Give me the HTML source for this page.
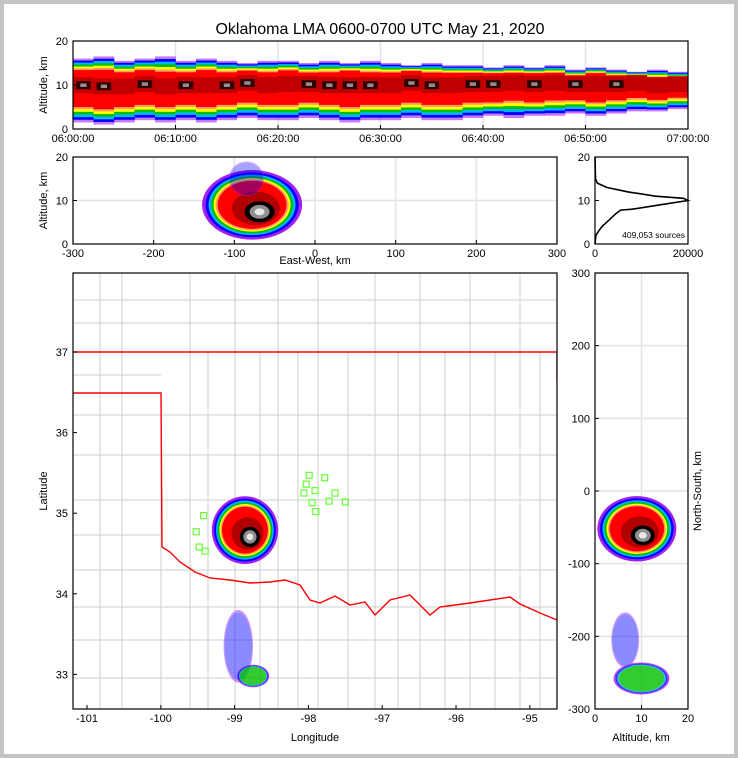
<!DOCTYPE html>
<html><head><meta charset="utf-8"><style>
html,body{margin:0;padding:0;background:#fff}
svg{display:block;font-family:"Liberation Sans",sans-serif}
text{fill:#000}
</style></head><body>
<svg id="c" width="738" height="758" xmlns="http://www.w3.org/2000/svg">
<rect x="0" y="0" width="738" height="758" fill="#c4c4c4"/>
<rect x="4" y="4" width="730" height="750" fill="#fff"/>
<text x="380" y="34" font-size="16" text-anchor="middle">Oklahoma LMA 0600-0700 UTC May 21, 2020</text>
<g id="g"></g>
</svg>
<script>
// ---- data ----
const timeTicks=["06:00:00","06:10:00","06:20:00","06:30:00","06:40:00","06:50:00","07:00:00"];
const binTop=[16,16.5,15.5,16,16.5,15.5,16,15.5,15,15.5,15.5,15,15.5,15,15.5,15,14.5,15,14.5,14.5,14,14.5,14,14.5,13.5,14,13.5,13,13.5,13];
const binBot=[1.5,1,1.5,2,1.5,2,1.5,2,2.5,2,2,2.5,2,1.5,2,2,2.5,2,2,2.5,3,2.5,3,3,3.5,3,3.5,4,4,4.5];
const binCoreLo=[5.5,5,5.5,6,5.5,6,5.5,6,6.5,6,6,6.5,6,5.5,6,6,6.5,6,6,6.5,6.5,7,6.5,7,7,6.5,7,7.5,7,7.5];
const binCoreHi=[13,13,12.5,13,12.5,12.5,13,12.5,13,12.5,13,12.5,12.5,13,12.5,12.5,13,12.5,12.5,12.5,12.5,12.5,12.5,12.5,12,12.5,12,12,11.5,11.5];
const binDark=[1,1,0,1,0,1,0,1,1,0,0,1,1,1,1,0,1,1,0,1,1,0,1,0,1,0,1,0,0,0];
const ewTicks=[-300,-200,-100,0,100,200,300];
const histAlt=[0,2,3,4,5,6,7,7.8,8,9,10,10.5,11,12,13,14,15,20];
const histCount=[0,200,800,1500,2500,3500,4500,5500,8000,14000,20000,19000,13000,7000,2500,500,100,0];
const lonTicks=[-101,-100,-99,-98,-97,-96,-95];
const latTicks=[33,34,35,36,37];
const nsTicks=[300,200,100,0,-100,-200,-300];
const mapBlobLon=[-98.86,-98.95,-98.75];
const mapBlobLat=[34.79,33.35,32.98];
const mapBlobRLon=[0.45,0.2,0.22];
const mapBlobRLat=[0.42,0.45,0.14];
const mapBlobLayers=[11,2,4];
const mapBlobOpacity=[1,0.45,0.8];
const ewBlobX=[-78,-85];
const ewBlobAlt=[9,15];
const ewBlobRX=[62,22];
const ewBlobRAlt=[8,4];
const ewBlobLayers=[11,2];
const ewBlobOpacity=[1,0.35];
const nsBlobAlt=[9,6.5,10];
const nsBlobY=[-52,-205,-258];
const nsBlobRAlt=[8.5,3,6];
const nsBlobRY=[45,38,22];
const nsBlobLayers=[11,2,4];
const nsBlobOpacity=[1,0.45,0.8];
const stationLon=[-97.99,-97.78,-98.03,-98.06,-97.91,-97.64,-97.95,-97.72,-97.50,-97.90,-99.42,-99.52,-99.48,-99.40];
const stationLat=[35.47,35.44,35.36,35.25,35.28,35.25,35.13,35.15,35.14,35.02,34.97,34.77,34.58,34.53];

// ---- helpers ----
const NS="http://www.w3.org/2000/svg";const G=document.getElementById('g');
function mk(t,a,p){const e=document.createElementNS(NS,t);for(const k in a)e.setAttribute(k,a[k]);(p||G).appendChild(e);return e;}
const COL=["#a020f0","#0000ff","#00b4ff","#00c000","#ffff00","#ffa060","#ff0000","#b00000","#000000","#909090","#e8e8e8"];
const FR=[1,0.93,0.87,0.82,0.77,0.73,0.69,0.48,0.3,0.2,0.1];
function txt(x,y,s,sz,anc,name,rot){const e=mk('text',{x:x,y:y,'font-size':sz,'text-anchor':anc});e.textContent=s;if(rot)e.setAttribute('transform',`rotate(-90 ${x} ${y})`);

return e;}
function frame(x,y,w,h,name){const r=mk('rect',{x:x,y:y,width:w,height:h,fill:'none',stroke:'#000','stroke-width':1.2});

}
function grid(x1,y1,x2,y2){const l=mk('line',{x1:x1,y1:y1,x2:x2,y2:y2,stroke:'#e4e4e4','stroke-width':1.5});

}
function tick(x1,y1,x2,y2){const l=mk('line',{x1:x1,y1:y1,x2:x2,y2:y2,stroke:'#000','stroke-width':1});

}
function blob(cx,cy,rx,ry,n,op,name,p){const g=mk('g',{opacity:op},p);


for(let i=0;i<n;i++){const f=FR[i];const off=i>7?1:(i>6?0.5:0);
 const e=mk('ellipse',{cx:cx+off*rx*0.15,cy:cy+off*ry*0.2,rx:rx*f,ry:ry*f,fill:COL[i]},g);
 
 }}

// ---- panel 1: time-altitude ----
const T={x:73,y:41,w:615,h:88};
const tX=m=>T.x+m*T.w/60, tY=a=>T.y+T.h-a*T.h/20;
for(let i=1;i<6;i++)grid(tX(i*10),T.y,tX(i*10),T.y+T.h);grid(T.x,tY(10),T.x+T.w,tY(10));
const TF=[0,0.15,0.3,0.45,0.6,0.75,0.87];
binTop.forEach((top,i)=>{const bot=binBot[i],lo=binCoreLo[i],hi=binCoreHi[i],x=tX(i*2),w=tX(2)-tX(0)+0.3;
 TF.forEach((f,k)=>{const a1=bot+(lo-bot)*f,a2=top-(top-hi)*f;
  const r=mk('rect',{x:x,y:tY(a2),width:w,height:tY(a1)-tY(a2),fill:COL[k],opacity:k==0?0.6:1});
  
  });
 const m=(lo+hi)/2+0.7;
 const d=mk('rect',{x:x,y:tY(m+1.8),width:w,height:tY(m-1.8)-tY(m+1.8),fill:'#c00000'});
 
 
 if(binDark[i]){const r=mk('rect',{x:x+w*0.15,y:tY(m+0.9),width:w*0.7,height:tY(m-0.9)-tY(m+0.9),fill:'#300000'});
  
  
  const r2=mk('rect',{x:x+w*0.35,y:tY(m+0.4),width:w*0.3,height:tY(m-0.4)-tY(m+0.4),fill:'#909090'});
  
  }
});
frame(T.x,T.y,T.w,T.h,'time-altitude-frame');
timeTicks.forEach((s,i)=>{const x=tX(i*10);tick(x,T.y+T.h,x,T.y+T.h-4);txt(x,T.y+T.h+13,s,11,'middle','time-tick-label');});
[0,10,20].forEach(v=>{tick(T.x,tY(v),T.x+4,tY(v));txt(T.x-5,tY(v)+4,v,11,'end','alt-tick-label');});
txt(47,T.y+T.h/2,'Altitude, km',11,'middle','time-panel-y-title',1);

// ---- panel 2: east-west vs altitude ----
const E={x:73,y:157,w:484,h:87};
const eX=k=>E.x+(k+300)*E.w/600, eY=a=>E.y+E.h-a*E.h/20;
ewTicks.forEach(v=>grid(eX(v),E.y,eX(v),E.y+E.h));grid(E.x,eY(10),E.x+E.w,eY(10));
ewBlobX.forEach((k,i)=>blob(eX(k),eY(ewBlobAlt[i]),ewBlobRX[i]*E.w/600,ewBlobRAlt[i]*E.h/20,ewBlobLayers[i],ewBlobOpacity[i],'ew-density-blob'));
frame(E.x,E.y,E.w,E.h,'ew-altitude-frame');
ewTicks.forEach(v=>{tick(eX(v),E.y+E.h,eX(v),E.y+E.h-4);txt(eX(v),E.y+E.h+13,v,11,'middle','ew-tick-label');});
[0,10,20].forEach(v=>{tick(E.x,eY(v),E.x+4,eY(v));txt(E.x-5,eY(v)+4,v,11,'end','alt-tick-label');});
txt(47,E.y+E.h/2,'Altitude, km',11,'middle','ew-panel-y-title',1);
txt(315,264,'East-West, km',11,'middle','ew-x-title');

// ---- histogram ----
const H={x:595,y:157,w:93,h:87};
const hX=c=>H.x+c*H.w/20000, hY=a=>H.y+H.h-a*H.h/20;
const hp=mk('path',{d:histAlt.map((a,i)=>(i?'L':'M')+hX(histCount[i]).toFixed(1)+','+hY(a).toFixed(1)).join(''),fill:'none',stroke:'#000','stroke-width':1.6});


frame(H.x,H.y,H.w,H.h,'histogram-frame');
[0,10,20].forEach(v=>{tick(H.x,hY(v),H.x+4,hY(v));txt(H.x-5,hY(v)+4,v,11,'end','hist-alt-tick-label');});
[0,20000].forEach(v=>{tick(hX(v),H.y+H.h,hX(v),H.y+H.h-4);txt(hX(v),H.y+H.h+13,v,11,'middle','hist-count-tick-label');});
txt(685,238,'409,053 sources',8.5,'end','source-count-label');

// ---- map ----
const M={x:73,y:273,w:484,h:436};
const mX=l=>M.x+(l+101.19)*73.8, mY=la=>352+(37-la)*80.6;
const clip=mk('clipPath',{id:'mc'});mk('rect',{x:M.x,y:M.y,width:M.w,height:M.h},clip);
const mg=mk('g',{'clip-path':'url(#mc)'});


const cty=[[73,300,557,300],[73,323,557,323],[73,375,161,375],[73,415,557,415],[73,455,557,455],[73,500,557,500],[73,535,161,535],[73,570,557,570],[73,607,557,607],[73,640,557,640],[73,678,557,678],
[100,273,100,709],[122,273,122,709],[161,393,161,709],[190,273,190,709],[208,352,208,709],[235,273,235,709],[260,352,260,709],[278,273,278,709],[298,352,298,709],[318,273,318,709],[348,352,348,709],[375,273,375,709],[398,352,398,709],[420,273,420,709],[445,352,445,709],[470,273,470,709],[495,352,495,709],[520,273,520,709],[540,352,540,709]];
cty.forEach(c=>{const l=mk('line',{x1:c[0],y1:c[1],x2:c[2],y2:c[3],stroke:'#cfcfcf','stroke-width':1},mg);
 
 });
mapBlobLon.forEach((l,i)=>blob(mX(l),mY(mapBlobLat[i]),mapBlobRLon[i]*73.8,mapBlobRLat[i]*80.6,mapBlobLayers[i],mapBlobOpacity[i],'map-density-blob',mg));
const st=mk('path',{d:'M73,352L557,352M73,393L161,393L162,547L170,552L180,562L195,572L210,578L230,580L250,583L270,582L285,580L300,585L310,600L320,603L335,596L350,605L365,602L375,615L390,600L410,595L420,605L430,615L440,607L455,605L470,603L490,600L510,597L520,604L540,613L557,620M557,352L557,380',fill:'none',stroke:'#ff0000','stroke-width':1.4},mg);


stationLon.forEach((l,i)=>{const r=mk('rect',{x:mX(l)-3,y:mY(stationLat[i])-3,width:6,height:6,fill:'none',stroke:'#66ff33','stroke-width':1.2},mg);
 
 });
frame(M.x,M.y,M.w,M.h,'map-frame');
lonTicks.forEach(v=>{tick(mX(v),M.y+M.h,mX(v),M.y+M.h-4);txt(mX(v),M.y+M.h+13,v,11,'middle','longitude-tick-label');});
latTicks.forEach(v=>{tick(M.x,mY(v),M.x+4,mY(v));txt(M.x-5,mY(v)+4,v,11,'end','latitude-tick-label');});
txt(315,741,'Longitude',11,'middle','map-x-title');
txt(47,491,'Latitude',11,'middle','map-y-title',1);

// ---- NS vs altitude ----
const N={x:595,y:273,w:93,h:436};
const nX=a=>N.x+a*N.w/20, nY=k=>N.y+(300-k)*N.h/600;
nsTicks.forEach(v=>grid(N.x,nY(v),N.x+N.w,nY(v)));[10].forEach(v=>grid(nX(v),N.y,nX(v),N.y+N.h));
nsBlobAlt.forEach((a,i)=>blob(nX(a),nY(nsBlobY[i]),nsBlobRAlt[i]*N.w/20,nsBlobRY[i]*N.h/600,nsBlobLayers[i],nsBlobOpacity[i],'ns-density-blob'));
frame(N.x,N.y,N.w,N.h,'ns-altitude-frame');
nsTicks.forEach(v=>{tick(N.x,nY(v),N.x+4,nY(v));txt(N.x-5,nY(v)+4,v,11,'end','ns-tick-label');});
[0,10,20].forEach(v=>{tick(nX(v),N.y+N.h,nX(v),N.y+N.h-4);txt(nX(v),N.y+N.h+13,v,11,'middle','ns-alt-tick-label');});
txt(641,741,'Altitude, km',11,'middle','ns-x-title');
txt(701,491,'North-South, km',11,'middle','ns-y-title',1);
</script>
</body></html>
